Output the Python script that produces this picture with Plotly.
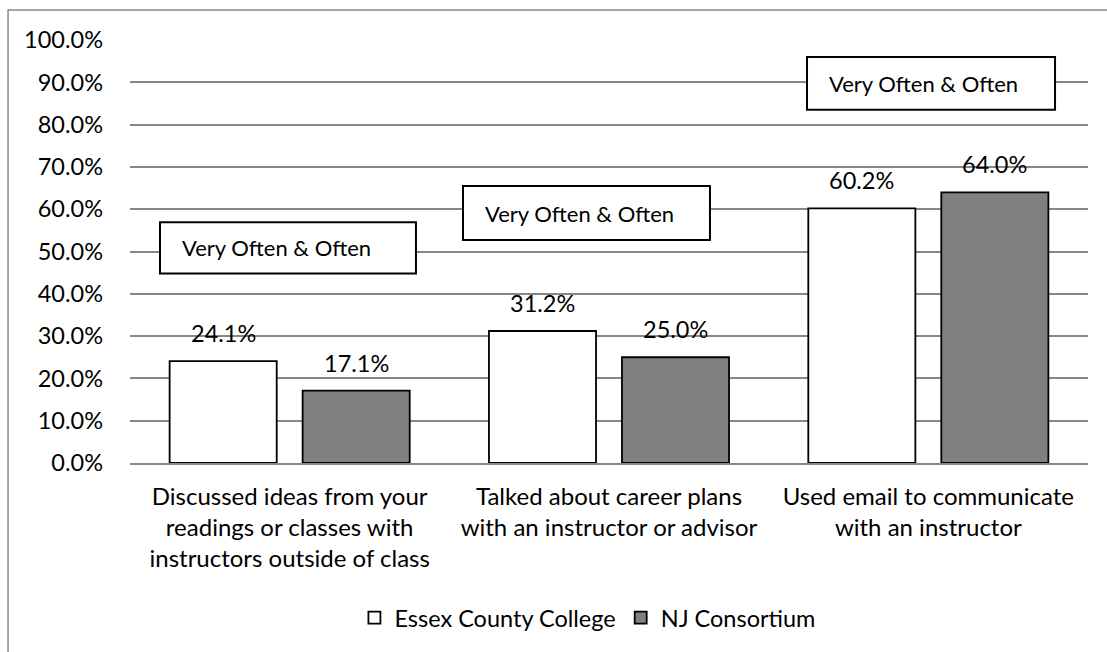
import plotly.graph_objects as go

# Survey items (x categories) and percentages answering "Very Often" or "Often"
categories = [
    "Discussed ideas from your<br>readings or classes with<br>instructors outside of class",
    "Talked about career plans<br>with an instructor or advisor",
    "Used email to communicate<br>with an instructor",
]
essex_values = [0.241, 0.312, 0.602]
nj_values = [0.171, 0.250, 0.640]
series_names = ["Essex County College", "NJ Consortium"]
box_label = "Very Often & Often"

FONT = "Lato"
FS = 24
GRID = "#878787"
BARGAP = 0.167
BARGROUPGAP = 0.195

fig = go.Figure()
fig.add_trace(go.Bar(
    x=categories, y=essex_values, name=series_names[0],
    marker=dict(color="white", line=dict(color="black", width=1.8)),
))
fig.add_trace(go.Bar(
    x=categories, y=nj_values, name=series_names[1],
    marker=dict(color="#808080", line=dict(color="black", width=1.8)),
))

# value labels above each bar
half = (1 - BARGAP) / 4
annotations = []
for i, (a, b) in enumerate(zip(essex_values, nj_values)):
    for off, v in ((-half, a), (half, b)):
        annotations.append(dict(
            x=i + off, y=v, xref="x", yref="y", text=f"{v*100:.1f}%",
            showarrow=False, yanchor="middle", yshift=28,
            font=dict(family=FONT, size=FS - 0.5, color="black"),
        ))

# "Very Often & Often" boxes (paper x, data y)
boxes = [
    (0.0313, 0.2985, 0.448, 0.569),
    (0.3476, 0.6054, 0.527, 0.655),
    (0.7067, 0.9656, 0.835, 0.960),
]
shapes = []
for x0, x1, y0, y1 in boxes:
    shapes.append(dict(type="rect", xref="paper", yref="y", x0=x0, x1=x1, y0=y0, y1=y1,
                       line=dict(color="black", width=2), fillcolor="white", layer="above"))
    annotations.append(dict(
        x=x0 + 0.021, y=(y0 + y1) / 2, xref="paper", yref="y", text=box_label,
        showarrow=False, xanchor="left", yanchor="middle",
        font=dict(family=FONT, size=FS - 2, color="black"),
    ))

# outer chart frame
shapes.append(dict(type="path", xref="paper", yref="paper",
                   path="M 1.05 1.0709 L -0.1273 1.0709 L -0.1273 -0.48",
                   line=dict(color="#8a8a8a", width=1.5)))

fig.update_layout(
    width=1107, height=652,
    margin=dict(l=130, r=19, t=40, b=189),
    paper_bgcolor="white", plot_bgcolor="white",
    barmode="group", bargap=BARGAP, bargroupgap=BARGROUPGAP,
    font=dict(family=FONT, size=FS, color="black"),
    showlegend=True,
    legend=dict(orientation="h", x=0.478, xanchor="center", y=-0.366, yanchor="middle",
                font=dict(family=FONT, size=FS - 0.5, color="black"), itemwidth=30),
    annotations=annotations,
    shapes=shapes,
)
fig.update_yaxes(
    range=[0, 1.0], dtick=0.1, tickformat=".1%",
    showgrid=True, gridcolor=GRID, gridwidth=1.5,
    zeroline=False, showline=False, ticks="", ticklabelstandoff=26,
    tickfont=dict(family=FONT, size=FS - 0.5, color="black"),
)
fig.update_xaxes(
    showline=True, linecolor=GRID, linewidth=1.5, ticks="",
    tickfont=dict(family=FONT, size=FS, color="black"), ticklabelstandoff=11,
)

fig.write_html("out.html")
